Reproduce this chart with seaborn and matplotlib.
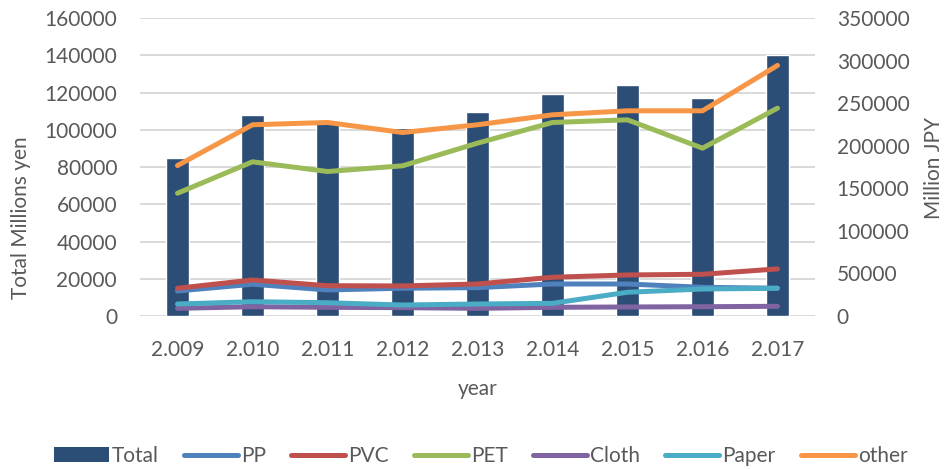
import matplotlib.pyplot as plt
from matplotlib.patches import Patch
from matplotlib.lines import Line2D
import numpy as np
import pandas as pd
import seaborn as sns

# Data
years = ['2.009', '2.010', '2.011', '2.012', '2.013', '2.014', '2.015', '2.016', '2.017']
total = [85000, 108000, 104500, 101000, 109500, 119000, 124000, 117300, 140000]

pp = [29400, 37300, 30600, 32600, 33300, 37600, 37600, 33700, 32600]
pvc = [32600, 42300, 35600, 35300, 37600, 45500, 48200, 49000, 55300]
pet = [144200, 181100, 169700, 176400, 203000, 227300, 230400, 197100, 244100]
cloth = [9000, 10900, 10200, 9800, 9000, 10200, 10600, 10900, 11400]
paper = [14100, 16800, 15600, 12900, 14100, 14900, 27900, 31700, 32600]
other = [176700, 224600, 227300, 215500, 224600, 236300, 241000, 241000, 294300]

materials = ['PP', 'PVC', 'PET', 'Cloth', 'Paper', 'other']
series = [pp, pvc, pet, cloth, paper, other]
line_colors = ['#4F81BD', '#C0504D', '#9BBB59', '#8064A2', '#4BACC6', '#F79646']
bar_color = '#2C4D75'
text_color = '#595959'

# long table for the lines
pos = np.arange(len(years))
df_lines = pd.DataFrame({
    'pos': np.tile(pos, len(materials)),
    'value': np.concatenate(series),
    'material': np.repeat(materials, len(years)),
})

sns.set_style('white')
plt.rcParams['font.family'] = ['Lato', 'DejaVu Sans']
plt.rcParams['text.color'] = text_color
plt.rcParams['xtick.color'] = text_color
plt.rcParams['ytick.color'] = text_color

fig = plt.figure(figsize=(9.46, 4.69), dpi=100)
ax = fig.add_axes([140 / 946, 1 - 316 / 469, 675 / 946, 298 / 469])

# bars (left axis)
sns.barplot(x=years, y=total, color=bar_color, saturation=1, width=0.31, ax=ax, zorder=2)
ax.set_xlim(-0.5, len(years) - 0.5)
ax.set_ylim(0, 160000)
ax.set_yticks(np.arange(0, 160001, 20000))
ax.yaxis.grid(True, color='#D9D9D9', linewidth=1.4, zorder=0)
ax.set_axisbelow(True)
ax.set_xlabel('')
ax.set_ylabel('')
ax.tick_params(axis='both', length=0, labelsize=15)
ax.tick_params(axis='y', pad=16.5)
ax.tick_params(axis='x', pad=17)
for s in ax.spines.values():
    s.set_visible(False)

# lines (right axis)
ax2 = ax.twinx()
sns.lineplot(data=df_lines, x='pos', y='value', hue='material', hue_order=materials,
             palette=line_colors, linewidth=3.6, sort=False, legend=False, ax=ax2,
             solid_capstyle='round', solid_joinstyle='round')
ax2.set_xlim(-0.5, len(years) - 0.5)
ax2.set_ylim(0, 350000)
ax2.set_yticks(np.arange(0, 350001, 50000))
ax2.set_xlabel('')
ax2.set_ylabel('')
ax2.tick_params(axis='y', length=0, labelsize=15, pad=15.6)
for s in ax2.spines.values():
    s.set_visible(False)

# axis titles
fig.text(21 / 946, 1 - 218 / 469, 'Total Millions yen', rotation=90, ha='center', va='center', fontsize=15)
fig.text(934 / 946, 1 - 167.5 / 469, 'Million JPY', rotation=90, ha='center', va='center', fontsize=15)
fig.text(477.5 / 946, 1 - 395 / 469, 'year', ha='center', va='baseline', fontsize=15)

# legend at the bottom
handles = [Patch(facecolor=bar_color, edgecolor='none', label='Total')]
for name, c in zip(materials, line_colors):
    handles.append(Line2D([0], [0], color=c, linewidth=3.6, solid_capstyle='round', label=name))
fig.legend(handles=handles, loc='center', bbox_to_anchor=(481 / 946, 1 - 456 / 469), ncol=7,
           frameon=False, fontsize=15, handlelength=2.6, handletextpad=0.15, columnspacing=1.2,
           borderaxespad=0, borderpad=0)

fig.savefig('out.png', dpi=100)
